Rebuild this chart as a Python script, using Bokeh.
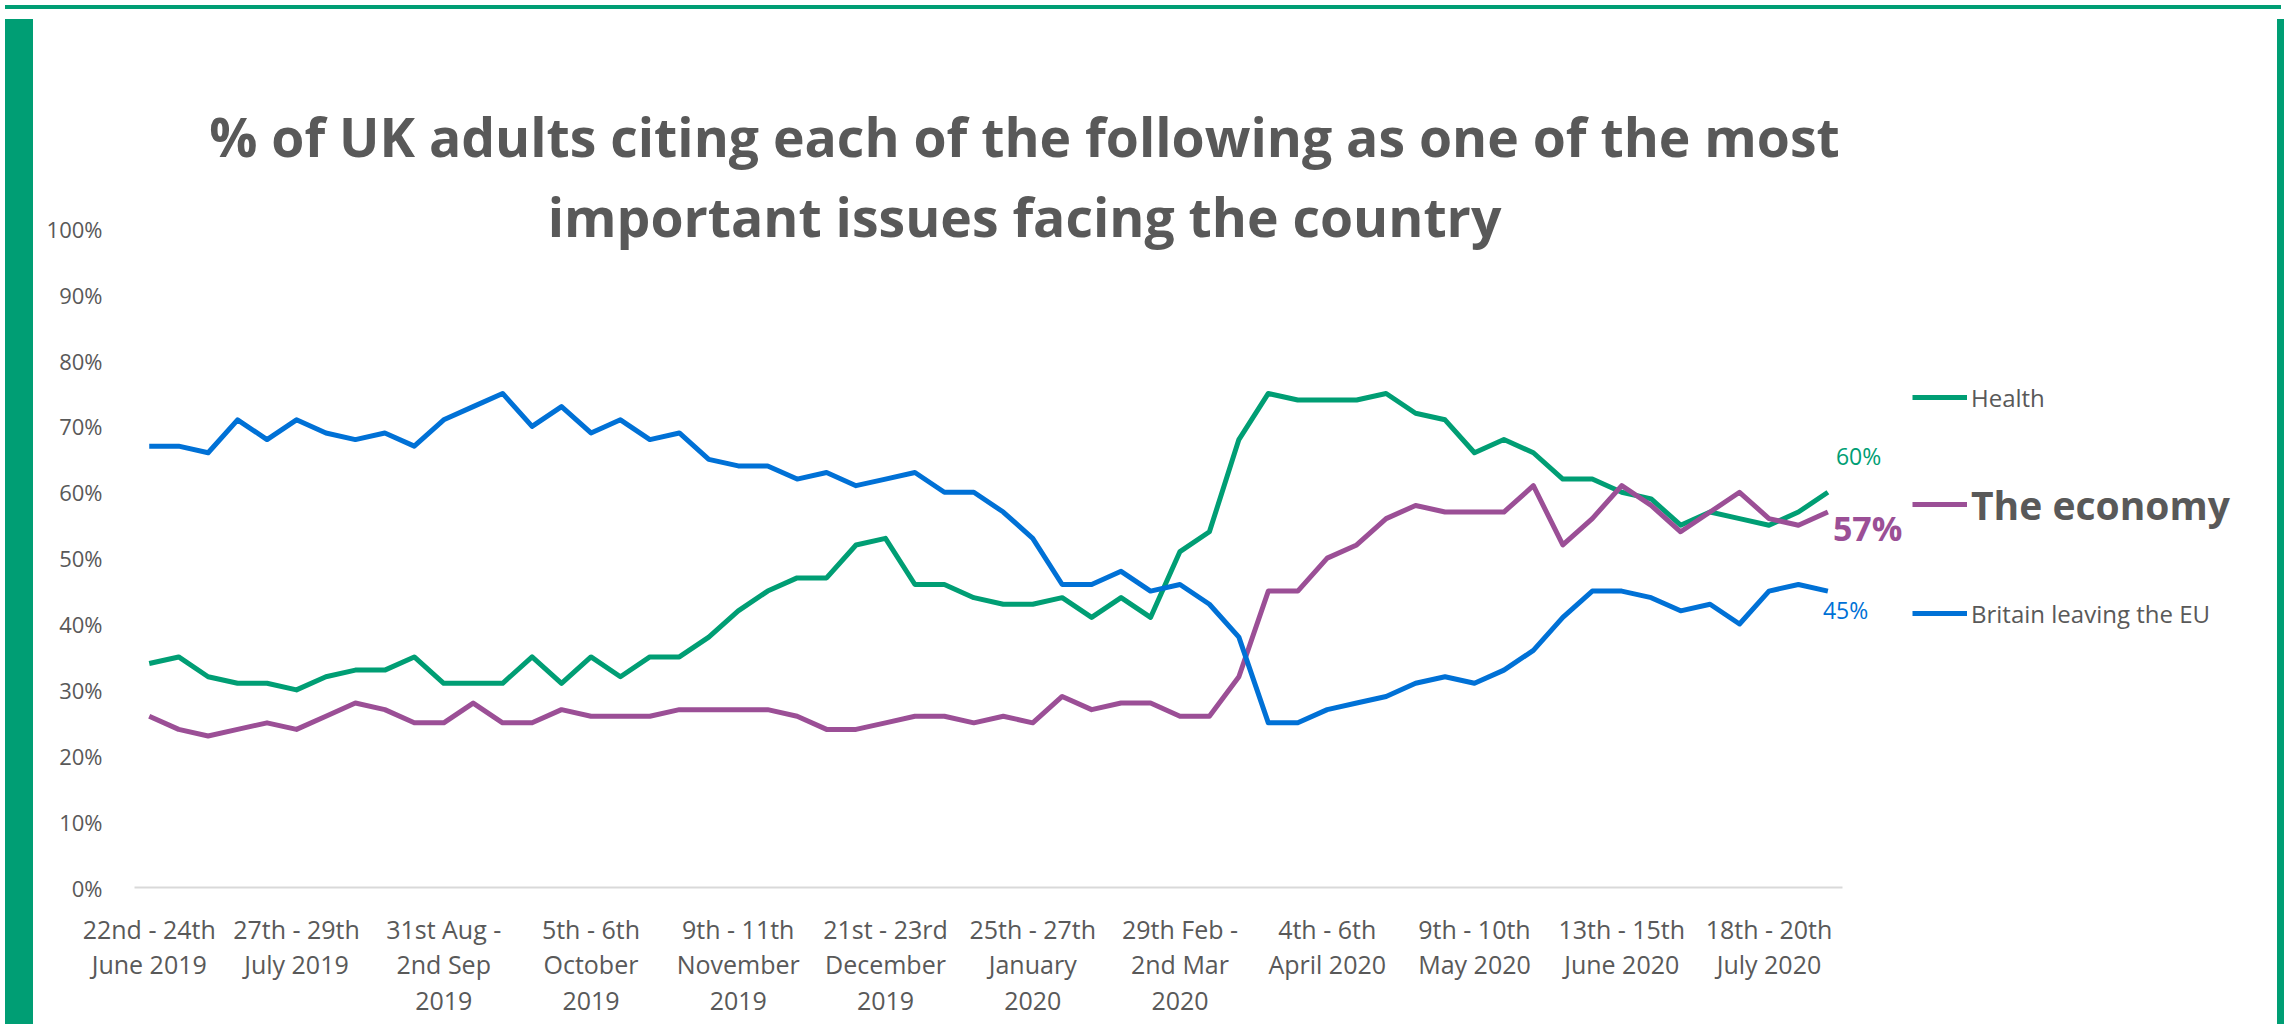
from bokeh.plotting import figure
from bokeh.layouts import row, column
from bokeh.models import Range1d, FixedTicker, Label, Legend, LegendItem, Div
from bokeh.embed import file_html
from bokeh.resources import INLINE

# ---------------- data ----------------
title_lines = [
    "% of UK adults citing each of the following as one of the most",
    "important issues facing the country",
]
series_names = ["Health", "The economy", "Britain leaving the EU"]

health = [34, 35, 32, 31, 31, 30, 32, 33, 33, 35, 31, 31, 31, 35, 31,
          35, 32, 35, 35, 38, 42, 45, 47, 47, 52, 53, 46, 46, 44, 43,
          43, 44, 41, 44, 41, 51, 54, 68, 75, 74, 74, 74, 75, 72, 71,
          66, 68, 66, 62, 62, 60, 59, 55, 57, 56, 55, 57, 60]
economy = [26, 24, 23, 24, 25, 24, 26, 28, 27, 25, 25, 28, 25, 25, 27,
           26, 26, 26, 27, 27, 27, 27, 26, 24, 24, 25, 26, 26, 25, 26,
           25, 29, 27, 28, 28, 26, 26, 32, 45, 45, 50, 52, 56, 58, 57,
           57, 57, 61, 52, 56, 61, 58, 54, 57, 60, 56, 55, 57]
brexit = [67, 67, 66, 71, 68, 71, 69, 68, 69, 67, 71, 73, 75, 70, 73,
          69, 71, 68, 69, 65, 64, 64, 62, 63, 61, 62, 63, 60, 60, 57,
          53, 46, 46, 48, 45, 46, 43, 38, 25, 25, 27, 28, 29, 31, 32,
          31, 33, 36, 41, 45, 45, 44, 42, 43, 40, 45, 46, 45]

x_tick_positions = [0, 5, 10, 15, 20, 25, 30, 35, 40, 45, 50, 55]
x_tick_labels = [
    "22nd - 24th\nJune 2019",
    "27th - 29th\nJuly 2019",
    "31st Aug -\n2nd Sep\n2019",
    "5th - 6th\nOctober\n2019",
    "9th - 11th\nNovember\n2019",
    "21st - 23rd\nDecember\n2019",
    "25th - 27th\nJanuary\n2020",
    "29th Feb -\n2nd Mar\n2020",
    "4th - 6th\nApril 2020",
    "9th - 10th\nMay 2020",
    "13th - 15th\nJune 2020",
    "18th - 20th\nJuly 2020",
]
y_ticks = [0, 10, 20, 30, 40, 50, 60, 70, 80, 90, 100]
y_tick_labels = ["0%", "10%", "20%", "30%", "40%", "50%", "60%", "70%", "80%", "90%", "100%"]

# ---------------- style ----------------
GREEN = "#009E74"
BLUE = "#0071D6"
PURPLE = "#9B4F96"
GREY = "#595959"
FONT = "Open Sans"

TOTAL_W, TOTAL_H = 2276, 1009
LEFT_STRIP, RIGHT_STRIP, TOP_STRIP = 28, 14, 4
W = TOTAL_W - LEFT_STRIP - RIGHT_STRIP      # figure canvas width
H = TOTAL_H - TOP_STRIP                     # figure canvas height
OX, OY = 8 + LEFT_STRIP, 8 + TOP_STRIP      # page offset of the canvas

FL = 132 - OX                 # frame left (canvas)
FB = round(889.5 - OY)        # frame bottom (canvas)  -> value 0
Y100 = 227.5 - OY             # canvas y of value 100
XSTEP = 29.45                 # px per category

px_per_unit_y = (FB - Y100) / 100.0
y_end = FB / px_per_unit_y
x_start = -0.5
x_end = x_start + (W - FL) / XSTEP

x = list(range(len(health)))

p = figure(width=W, height=H, output_backend="svg", toolbar_location=None,
           x_range=Range1d(x_start, x_end), y_range=Range1d(0, y_end),
           min_border_left=FL, min_border_right=0,
           min_border_top=0, min_border_bottom=H - FB)
p.outline_line_color = None
p.grid.visible = False
p.background_fill_color = "white"
p.border_fill_color = "white"

# y axis
yax = p.yaxis[0]
yax.ticker = FixedTicker(ticks=y_ticks)
yax.major_label_overrides = dict(zip(y_ticks, y_tick_labels))
yax.axis_line_color = None
yax.major_tick_line_color = None
yax.minor_tick_line_color = None
yax.major_label_standoff = 26
yax.major_label_text_font = FONT
yax.major_label_text_font_size = "22px"
yax.major_label_text_color = GREY

# x axis
xax = p.xaxis[0]
xax.ticker = FixedTicker(ticks=x_tick_positions)
xax.major_label_overrides = dict(zip(x_tick_positions, x_tick_labels))
xax.bounds = (-0.5, len(health) - 0.5)
xax.axis_line_color = "#D9D9D9"
xax.axis_line_width = 2
xax.major_tick_line_color = None
xax.minor_tick_line_color = None
xax.major_label_standoff = 18
xax.major_label_text_font = FONT
xax.major_label_text_font_size = "25px"
xax.major_label_text_color = GREY
xax.major_label_text_line_height = 1.05

# lines
r_h = p.line(x, health, line_color=GREEN, line_width=5, line_join="round")
r_e = p.line(x, economy, line_color=PURPLE, line_width=5, line_join="round")
r_b = p.line(x, brexit, line_color=BLUE, line_width=5, line_join="round")

# end labels
last = len(health) - 1
p.add_layout(Label(x=last, y=health[-1], text=f"{health[-1]}%", x_offset=8, y_offset=36,
                   text_baseline="middle", text_font=FONT, text_font_size="23px",
                   text_color=GREEN))
p.add_layout(Label(x=last, y=economy[-1], text=f"{economy[-1]}%", x_offset=5, y_offset=-16,
                   text_baseline="middle", text_font=FONT, text_font_size="34px",
                   text_font_style="bold", text_color=PURPLE))
p.add_layout(Label(x=last, y=brexit[-1], text=f"{brexit[-1]}%", x_offset=-5, y_offset=-19,
                   text_baseline="middle", text_font=FONT, text_font_size="23px",
                   text_color=BLUE))

# legends (one per entry so each can have its own style)
def add_legend(name, renderer, center_page_y, size, style):
    leg = Legend(items=[LegendItem(label=name, renderers=[renderer])],
                 location=(1910 - OX - FL, (FB - (center_page_y - OY)) - 30),
                 orientation="vertical", padding=0, margin=0, spacing=0,
                 glyph_width=55, glyph_height=60, label_height=60,
                 label_standoff=4, border_line_alpha=0, background_fill_alpha=0,
                 label_text_font=FONT, label_text_font_size=size,
                 label_text_font_style=style, label_text_color=GREY)
    p.add_layout(leg, "center")

add_legend(series_names[0], r_h, 400, "24px", "normal")
add_legend(series_names[1], r_e, 507, "39px", "bold")
add_legend(series_names[2], r_b, 616, "24px", "normal")

# title (two centred lines)
for txt, base in zip(title_lines, [139, 219]):
    p.add_layout(Label(x=1022 - OX - FL, y=FB - (base - OY), x_units="screen", y_units="screen",
                       text=txt, text_align="center", text_baseline="alphabetic",
                       text_font=FONT, text_font_size="53.5px", text_font_style="bold",
                       text_color=GREY))

# green frame strips
top = Div(text="", width=TOTAL_W, height=TOP_STRIP, styles={"background-color": GREEN})
left = Div(text="", width=LEFT_STRIP, height=H, styles={"background-color": GREEN})
right = Div(text="", width=RIGHT_STRIP, height=H, styles={"background-color": GREEN})
layout = column(top, row(left, p, right, spacing=0), spacing=0,
                styles={"vertical-align": "top"})

open("out.html", "w").write(file_html(layout, INLINE))
